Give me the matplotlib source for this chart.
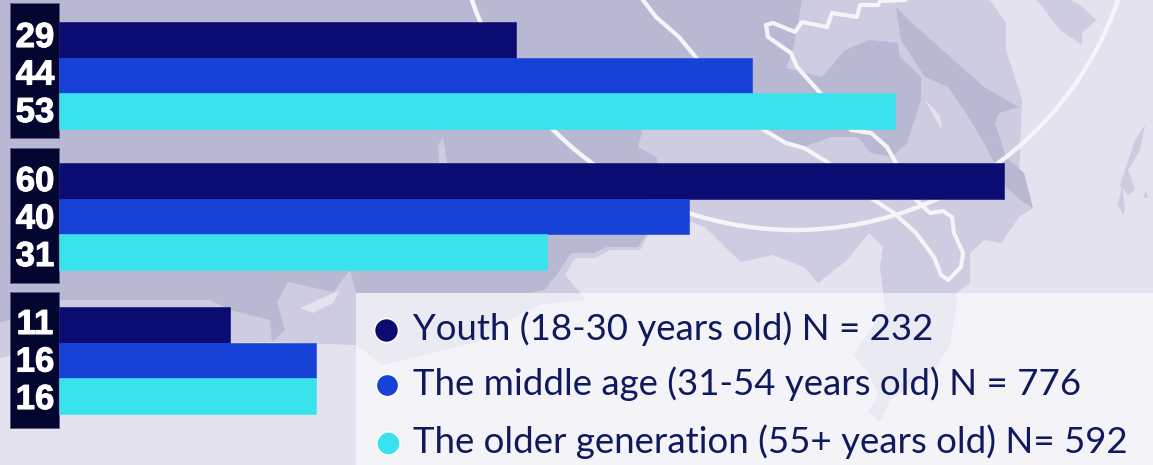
import matplotlib
matplotlib.use('Agg')
import matplotlib.pyplot as plt
import matplotlib.patheffects as pe
from matplotlib.patches import Circle, Polygon, Rectangle

# values
group_values = [
    [29, 44, 53.1],
    [60, 40, 31],
    [10.85, 16.3, 16.3],
]
group_labels = [
    ['29', '44', '53'],
    ['60', '40', '31'],
    ['11', '16', '16'],
]
series_colors = ['#0a0c72', '#1742d8', '#38e3ee']
legend_labels = [
    'Youth (18-30 years old) N = 232',
    'The middle age (31-54 years old) N = 776',
    'The older generation (55+ years old) N= 592',
]

# layout in pixels
W, H = 1153, 465
X_ZERO = 59
PX_PER_UNIT = 15.75
ROW_H = 35.7
group_tops = [22, 163, 307]
box_spans = [(3, 138), (148, 283), (292, 428)]
label_centres = [75, 219, 362]
legend_y = [330, 385, 443]
legend_x = [386, 387, 388]
legend_sizes = [300, 260, 280]

# background map, decoration only
MAP_LIGHT = '#e3e2ee'
MAP_MID = '#cdcce0'
MAP_DARK = '#b8b8d2'
LINE = '#f4f4f9'

mid_land = [
    (0, 0), (990, 0), (1006, 23), (1006, 50), (1022, 100), (1019, 180), (1033, 208),
    (1019, 217), (1001, 243), (984, 240), (970, 253), (970, 283), (957, 292),
    (956, 310), (950, 345), (935, 370), (890, 400), (880, 422), (868, 412), (878, 395),
    (870, 375), (853, 355), (885, 310), (883, 290), (880, 267), (883, 247), (869, 233),
    (847, 260), (818, 283), (804, 267), (773, 255), (741, 262), (728, 250), (705, 227),
    (692, 222), (660, 225), (650, 232), (640, 250), (610, 250), (595, 258), (575, 258),
    (565, 275), (582, 295), (585, 300), (540, 305), (500, 325), (477, 342), (383, 365),
    (356, 345), (272, 342), (60, 345), (0, 358),
]
dark_land = [
    (0, 0), (802, 0), (793, 50), (786, 68), (822, 77), (845, 50), (869, 40), (898, 43),
    (900, 57), (921, 77), (921, 100), (907, 143), (892, 157), (871, 153), (858, 137),
    (831, 137), (804, 147), (782, 140), (759, 128), (643, 128), (638, 147), (656, 157),
    (658, 163), (647, 233), (638, 247), (607, 247), (593, 253), (571, 253), (558, 273),
    (544, 290), (530, 293), (356, 293), (350, 270), (333, 292), (288, 282), (277, 302),
    (285, 330), (272, 342), (270, 320), (230, 310), (210, 300), (60, 300), (10, 320),
    (0, 322),
]
dark_strip = [
    (896, 7), (912, 23), (939, 47), (957, 63), (984, 87), (1019, 107), (999, 113),
    (995, 123), (1006, 157), (1024, 173), (1033, 208), (1020, 200), (1006, 187),
    (984, 143), (966, 113), (948, 87), (925, 77), (901, 40),
]
mid_islands = [
    [(1037, 0), (1060, 30), (1082, 45), (1082, 33), (1096, 20), (1080, 5), (1070, 0)],
    [(1145, 125), (1140, 150), (1128, 170), (1135, 190), (1128, 195), (1120, 185), (1135, 140)],
    [(1122, 185), (1125, 210), (1123, 215), (1118, 205)],
    [(1146, 190), (1148, 198), (1143, 198)],
]
mid_spots = [
    [(438, 145), (443, 137), (447, 163), (439, 163)],
]
light_spots = [
    [(340, 290), (300, 308), (313, 313), (333, 303)],
    [(925, 100), (940, 115), (942, 130), (933, 115)],
]
inner_border = [
    (643, 0), (656, 17), (679, 37), (694, 55), (723, 93), (764, 130), (786, 143),
    (804, 148), (827, 162), (871, 198), (894, 213), (916, 233), (934, 257), (941, 275),
    (948, 280), (961, 267), (963, 253), (954, 233), (952, 217), (943, 211), (930, 213),
    (916, 200), (896, 163), (887, 147), (871, 133), (851, 130), (822, 95), (797, 67),
    (791, 53), (768, 37), (766, 25), (773, 23), (795, 32), (802, 22), (827, 27),
    (832, 13), (857, 17), (860, 5), (878, 5), (880, 1), (905, 0),
]

fig = plt.figure(figsize=(W / 100, H / 100), dpi=100, facecolor=MAP_LIGHT)

bg = fig.add_axes([0, 0, 1, 1], zorder=0)
bg.set_xlim(0, W)
bg.set_ylim(H, 0)
bg.axis('off')
bg.add_patch(Polygon(mid_land, closed=True, fc=MAP_MID, ec='none'))
for shape in mid_islands:
    bg.add_patch(Polygon(shape, closed=True, fc=MAP_MID, ec='none'))
bg.add_patch(Polygon(dark_land, closed=True, fc=MAP_DARK, ec='none'))
bg.add_patch(Polygon(dark_strip, closed=True, fc=MAP_DARK, ec='none'))
for shape in mid_spots:
    bg.add_patch(Polygon(shape, closed=True, fc=MAP_MID, ec='none'))
for shape in light_spots:
    bg.add_patch(Polygon(shape, closed=True, fc=MAP_LIGHT, ec='none'))
bg.add_patch(Circle((795, -112), 342, fc='none', ec=LINE, lw=3.2))
border_x, border_y = zip(*inner_border)
bg.plot(border_x, border_y, color=LINE, lw=3, solid_joinstyle='round')
bg.add_patch(Rectangle((356, 293), W - 356, H - 293, fc='white', alpha=0.6, ec='none'))

ax = fig.add_axes([0, 0, 1, 1], zorder=1)
ax.patch.set_alpha(0)
ax.set_xlim(-X_ZERO / PX_PER_UNIT, (W - X_ZERO) / PX_PER_UNIT)
ax.set_ylim(H, 0)
ax.axis('off')

for top, values, labels, span, centre in zip(group_tops, group_values, group_labels,
                                             box_spans, label_centres):
    # dark box behind the numbers
    ax.add_patch(Rectangle((-49 / PX_PER_UNIT, span[0]), 49 / PX_PER_UNIT, span[1] - span[0],
                           fc='#03062f', ec='#5a5c88', lw=0.6))
    for i, (value, label) in enumerate(zip(values, labels)):
        ax.barh(top + (i + 0.5) * ROW_H, value, height=ROW_H, color=series_colors[i],
                edgecolor=series_colors[i], linewidth=0.4)
        # no condensed face here, so a bold one thickened a little
        ax.text(-24 / PX_PER_UNIT, centre + (i - 1) * 37.5, label, color='white',
                family='Liberation Sans', weight='bold', fontsize=25,
                ha='center', va='center',
                path_effects=[pe.withStroke(linewidth=0.8, foreground='white')])

for label, color, x, y, size in zip(legend_labels, series_colors, legend_x, legend_y, legend_sizes):
    bg.scatter([x], [y], s=size, color=color, edgecolors='white', linewidths=1.2, zorder=5)
    bg.text(413, y - 1, label, color='#0f1a5e', family='Lato', fontsize=26.4, ha='left',
            va='center', zorder=5)

fig.savefig('out.png', dpi=100)
